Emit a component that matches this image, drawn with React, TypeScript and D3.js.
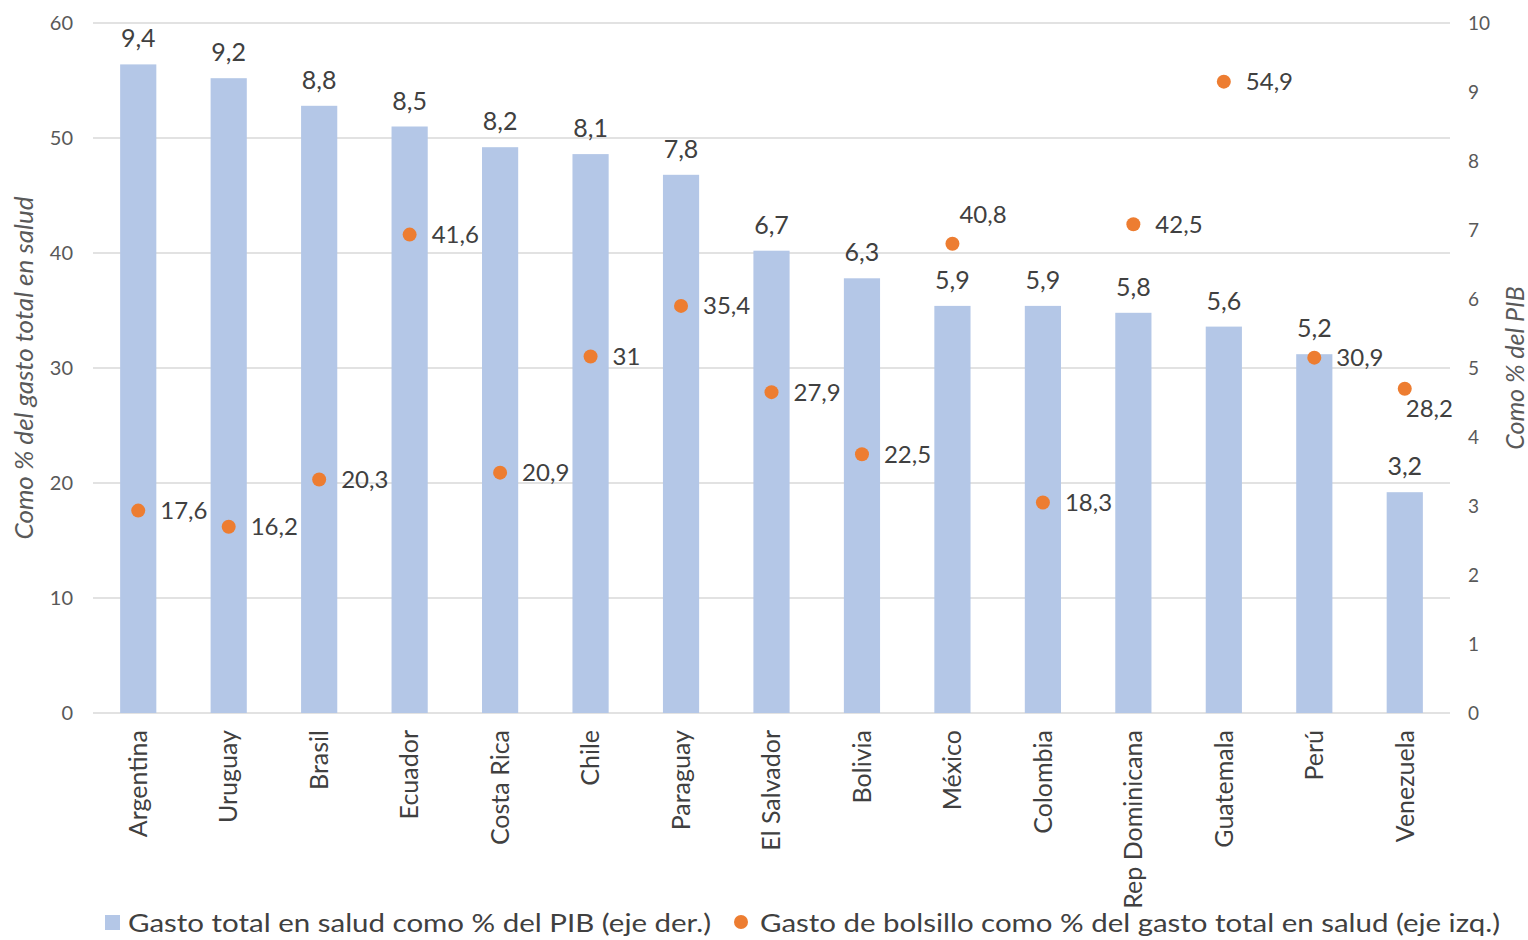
import React from "react";
import * as d3 from "d3";

const paises = [
  "Argentina", "Uruguay", "Brasil", "Ecuador", "Costa Rica", "Chile", "Paraguay",
  "El Salvador", "Bolivia", "México", "Colombia", "Rep Dominicana", "Guatemala", "Perú", "Venezuela",
];
// Gasto total en salud como % del PIB (eje derecho)
const gastoTotalPIB = [9.4, 9.2, 8.8, 8.5, 8.2, 8.1, 7.8, 6.7, 6.3, 5.9, 5.9, 5.8, 5.6, 5.2, 3.2];
// Gasto de bolsillo como % del gasto total en salud (eje izquierdo)
const gastoBolsillo = [17.6, 16.2, 20.3, 41.6, 20.9, 31, 35.4, 27.9, 22.5, 40.8, 18.3, 42.5, 54.9, 30.9, 28.2];
// Posición de la etiqueta de cada punto: a la derecha, arriba o abajo
const posEtiqueta = ["r", "r", "r", "r", "r", "r", "r", "r", "r", "up", "r", "r", "r", "r", "down"];
const ticksIzq = [0, 10, 20, 30, 40, 50, 60];
const ticksDer = [0, 1, 2, 3, 4, 5, 6, 7, 8, 9, 10];

const W = 1528;
const H = 940;
const m = { left: 93, right: 1450, top: 23, bottom: 713 };
const FONT = "Lato, 'Open Sans', sans-serif";
const AZUL = "#B4C7E7";
const NARANJA = "#ED7D31";
const GRIS = "#595959";
const TEXTO = "#404040";

const fmt = (v: number) => String(v).replace(".", ",");

export default function App() {
  const x = d3.scaleBand<string>().domain(paises).range([m.left, m.right]).paddingInner(0.6).paddingOuter(0.3);
  const yIzq = d3.scaleLinear().domain([0, 60]).range([m.bottom, m.top]);
  const yDer = d3.scaleLinear().domain([0, 10]).range([m.bottom, m.top]);
  const bw = x.bandwidth();
  const cx = (p: string) => (x(p) as number) + bw / 2;

  return (
    <svg width={W} height={H} style={{ position: "absolute", left: 0, top: 0, background: "#fff" }} fontFamily={FONT}>
      {/* cuadrícula */}
      {ticksIzq.map((t) => (
        <line key={"g" + t} x1={m.left} x2={m.right} y1={yIzq(t)} y2={yIzq(t)} stroke="#d9d9d9" strokeWidth={1.5} />
      ))}
      {/* eje izquierdo */}
      {ticksIzq.map((t) => (
        <text key={"l" + t} x={73} y={yIzq(t)} dy="0.35em" textAnchor="end" fontSize={20} fill={GRIS}>{t}</text>
      ))}
      {/* eje derecho */}
      {ticksDer.map((t) => (
        <text key={"r" + t} x={1468} y={yDer(t)} dy="0.35em" textAnchor="start" fontSize={19} fill={GRIS}>{t}</text>
      ))}
      <text transform={`translate(33,368) rotate(-90)`} textAnchor="middle" fontSize={26} fontStyle="italic" fill={GRIS}>
        Como % del gasto total en salud
      </text>
      <text transform={`translate(1524,368) rotate(-90)`} textAnchor="middle" fontSize={25} fontStyle="italic" fill={GRIS}>
        Como % del PIB
      </text>

      {/* barras */}
      {paises.map((p, i) => (
        <g key={"b" + p}>
          <rect x={x(p)} y={yDer(gastoTotalPIB[i])} width={bw} height={m.bottom - yDer(gastoTotalPIB[i])} fill={AZUL} />
          <text x={cx(p)} y={yDer(gastoTotalPIB[i]) - 17} textAnchor="middle" fontSize={25} fill={TEXTO}>
            {fmt(gastoTotalPIB[i])}
          </text>
        </g>
      ))}

      {/* puntos */}
      {paises.map((p, i) => {
        const px = cx(p);
        const py = yIzq(gastoBolsillo[i]);
        let lx = px + 22;
        let ly = py;
        if (posEtiqueta[i] === "up") { lx = px + 7; ly = py - 29; }
        if (posEtiqueta[i] === "down") { lx = px + 1; ly = py + 20; }
        return (
          <g key={"d" + p}>
            <circle cx={px} cy={py} r={7} fill={NARANJA} />
            <text x={lx} y={ly} dy="0.35em" textAnchor="start" fontSize={24} fill={TEXTO}>{fmt(gastoBolsillo[i])}</text>
          </g>
        );
      })}

      {/* categorías */}
      {paises.map((p) => (
        <text key={"c" + p} transform={`translate(${cx(p)},730) rotate(-90)`} dy="0.35em" textAnchor="end" fontSize={25} fill={TEXTO}>
          {p}
        </text>
      ))}

      {/* leyenda */}
      <rect x={105} y={915} width={15} height={15} fill={AZUL} />
      <text x={128} y={923} dy="0.35em" fontSize={25} fill={TEXTO} textLength={583} lengthAdjust="spacingAndGlyphs">
        Gasto total en salud como % del PIB (eje der.)
      </text>
      <circle cx={741} cy={922} r={7} fill={NARANJA} />
      <text x={760} y={923} dy="0.35em" fontSize={25} fill={TEXTO} textLength={740} lengthAdjust="spacingAndGlyphs">
        Gasto de bolsillo como % del gasto total en salud (eje izq.)
      </text>
    </svg>
  );
}
